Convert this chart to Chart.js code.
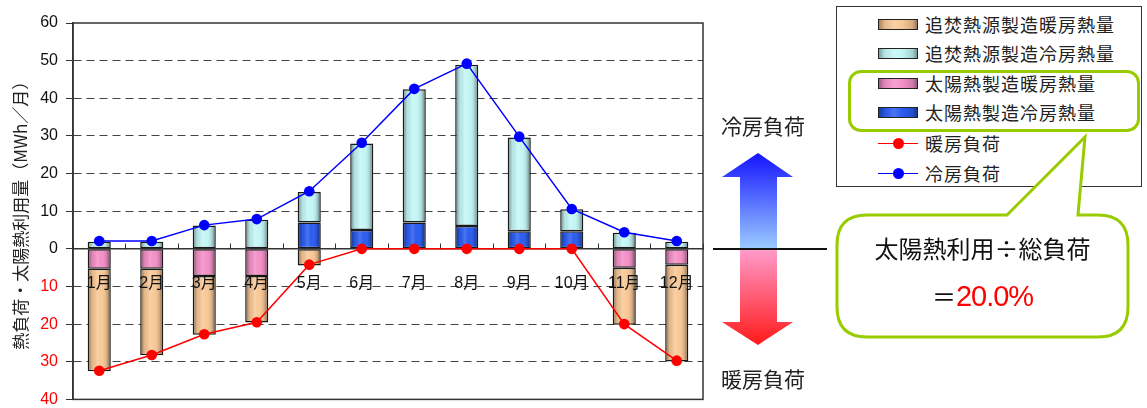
<!DOCTYPE html>
<html>
<head>
<meta charset="utf-8">
<script src="https://cdn.jsdelivr.net/npm/chart.js@4"></script>
<style>
  body{margin:0;background:#fff;font-family:'Liberation Sans','Noto Sans CJK JP',sans-serif;}
  #wrap{position:relative;width:1147px;height:408px;overflow:hidden;}
  #wrap canvas{position:absolute;left:0;top:0;}
  .abs{position:absolute;}
  #legend{left:836px;top:6px;width:306px;height:181px;border:1px solid #333;background:#fff;box-sizing:border-box;}
  .row{position:absolute;left:0;height:20px;}
  .sw{position:absolute;left:41px;top:4px;width:40px;height:11px;border:1px solid #222;box-sizing:border-box;}
  .lt{position:absolute;left:88px;top:-3px;font-size:18px;letter-spacing:1px;color:#222;white-space:nowrap;font-family:'Noto Sans CJK JP',sans-serif;line-height:24px;}
  .ln{position:absolute;left:41px;top:9px;width:40px;height:0;border-top:1.5px solid;}
  .dot{position:absolute;left:56px;top:4px;width:11px;height:11px;border-radius:50%;}
  #hl{left:848px;top:70px;width:292px;height:62px;border:3px solid #99cc00;border-radius:13px;box-sizing:border-box;}
  .jp{font-family:'Noto Sans CJK JP',sans-serif;color:#222;white-space:nowrap;}
</style>
</head>
<body>
<div id="wrap">
  <canvas id="chart" width="1147" height="417"></canvas>

  <div id="legend" class="abs">
    <div class="row" style="top:8px"><div class="sw" id="sw0"></div><div class="lt">追焚熱源製造暖房熱量</div></div>
    <div class="row" style="top:37px"><div class="sw" id="sw1"></div><div class="lt">追焚熱源製造冷房熱量</div></div>
    <div class="row" style="top:67px"><div class="sw" id="sw2"></div><div class="lt">太陽熱製造暖房熱量</div></div>
    <div class="row" style="top:96px"><div class="sw" id="sw3"></div><div class="lt">太陽熱製造冷房熱量</div></div>
    <div class="row" style="top:127px"><div class="ln" style="border-color:#ff0000"></div><div class="dot" style="background:#ff0000"></div><div class="lt">暖房負荷</div></div>
    <div class="row" style="top:157px"><div class="ln" style="border-color:#0000ff"></div><div class="dot" style="background:#0000ff"></div><div class="lt">冷房負荷</div></div>
  </div>
  <div id="hl" class="abs"></div>

  <svg class="abs" style="left:0;top:0" width="1147" height="408">
    <defs>
      <linearGradient id="arr" gradientUnits="userSpaceOnUse" x1="0" y1="153" x2="0" y2="345">
        <stop offset="0" stop-color="#1414ff"/>
        <stop offset="0.5" stop-color="#9cccff"/>
        <stop offset="0.5" stop-color="#ff9ccc"/>
        <stop offset="1" stop-color="#ff1a1a"/>
      </linearGradient>
    </defs>
    <path d="M758 153 L793 177 L777 177 L777 322 L793 322 L758 345 L722 322 L740 322 L740 177 L722 177 Z" fill="url(#arr)"/>
    <line x1="713" y1="249" x2="827" y2="249" stroke="#111" stroke-width="2"/>
    <path d="M867 215 L1007 215 L1085 137 L1078 215 L1098 215 Q1128 215 1128 245 L1128 307 Q1128 337 1098 337 L867 337 Q837 337 837 307 L837 245 Q837 215 867 215 Z"
          fill="#fff" stroke="#99cc00" stroke-width="3"/>
  </svg>

  <div class="abs jp" style="left:713px;top:110px;width:100px;text-align:center;font-size:21px;">冷房負荷</div>
  <div class="abs jp" style="left:713px;top:363px;width:100px;text-align:center;font-size:21px;">暖房負荷</div>
  <div class="abs jp" style="left:837px;top:230px;width:291px;text-align:center;font-size:24px;color:#111;">太陽熱利用÷総負荷</div>
  <div class="abs jp" style="left:837px;top:278px;width:291px;text-align:center;font-size:24px;color:#111;line-height:36px;">＝<span style="color:#ff0000;font-family:'Liberation Sans',sans-serif;font-size:29px;letter-spacing:-1px;">20.0%</span></div>
</div>

<script>
// values (MWh/month), heating side negative
const months = ['1月','2月','3月','4月','5月','6月','7月','8月','9月','10月','11月','12月'];
const solarHeat  = [-5.3, -5.3, -7.2, -7.2, null, null, null, null, null, null, -5.0, -4.2];
const backupHeat = [-27.2, -23.0, -15.6, -12.4, -4.4, null, null, null, null, null, -15.2, -25.7];
const solarCool  = [null, null, null, null, 7.0, 5.0, 7.0, 6.1, 4.7, 4.7, null, null];
const backupCool = [1.9, 1.9, 6.2, 7.7, 8.1, 23.0, 35.4, 42.8, 24.9, 5.8, 4.3, 1.9];
const heatLoad   = [-32.4, -28.2, -22.7, -19.5, -4.2, 0, 0, 0, 0, 0, -20.0, -29.7];
const coolLoad   = [2.1, 2.1, 6.3, 7.9, 15.3, 28.2, 42.5, 49.2, 29.8, 10.6, 4.4, 2.1];

const yMin = -40, yMax = 60, yStep = 10;

const colTan = '#f9c896', colCyan = '#c4f6f6', colPink = '#f590c8', colBlue = '#2a5cf0';

// cylinder-ish swatches for the html legend
function shade(c){
  return 'linear-gradient(to right, rgba(0,0,0,.35), rgba(0,0,0,.08) 15%, rgba(255,255,255,.15) 40%, rgba(255,255,255,0) 60%, rgba(0,0,0,.15) 88%, rgba(0,0,0,.4)), ' + c;
}
document.getElementById('sw0').style.background = shade(colTan);
document.getElementById('sw1').style.background = shade(colCyan);
document.getElementById('sw2').style.background = shade(colPink);
document.getElementById('sw3').style.background = shade(colBlue);

const FONT = "'Liberation Sans','Noto Sans CJK JP',sans-serif";

const barShade = {
  id:'barShade',
  afterDatasetDraw(chart, args){
    const meta = args.meta;
    if(meta.type !== 'bar') return;
    const ctx = chart.ctx;
    meta.data.forEach(el=>{
      const p = el.getProps(['x','y','base','width'], true);
      const h = Math.abs(p.base - p.y);
      if(!isFinite(h) || h < 2) return;
      const l = p.x - p.width/2 + 1.5, w = p.width - 3, t = Math.min(p.y, p.base) + 1.5;
      const g = ctx.createLinearGradient(l,0,l+w,0);
      g.addColorStop(0,'rgba(0,0,0,0.35)');
      g.addColorStop(0.15,'rgba(0,0,0,0.08)');
      g.addColorStop(0.4,'rgba(255,255,255,0.15)');
      g.addColorStop(0.6,'rgba(255,255,255,0)');
      g.addColorStop(0.88,'rgba(0,0,0,0.15)');
      g.addColorStop(1,'rgba(0,0,0,0.4)');
      ctx.save();
      ctx.fillStyle = g;
      ctx.fillRect(l, t, w, h - 3);
      ctx.restore();
    });
  }
};

const frame = {
  id:'frame',
  beforeDatasetsDraw(chart){
    const a = chart.chartArea, ctx = chart.ctx;
    ctx.save();
    ctx.strokeStyle = '#333';
    ctx.lineWidth = 1.5;
    ctx.strokeRect(a.left, a.top, a.right - a.left, a.bottom - a.top);
    ctx.restore();
  }
};

function barSet(label, data, color){
  return {type:'bar', label, data, backgroundColor:color, borderColor:'#1a1a1a', borderWidth:1.5,
          borderSkipped:false, barPercentage:0.44, categoryPercentage:1, order:1};
}
function lineSet(label, data, color){
  return {type:'line', label, data, borderColor:color, backgroundColor:color, borderWidth:1.5,
          pointRadius:5.3, pointBorderWidth:0, pointBackgroundColor:color, tension:0, order:0};
}

new Chart(document.getElementById('chart'), {
  data:{
    labels: months,
    datasets:[
      barSet('太陽熱製造暖房熱量', solarHeat, colPink),
      barSet('追焚熱源製造暖房熱量', backupHeat, colTan),
      barSet('太陽熱製造冷房熱量', solarCool, colBlue),
      barSet('追焚熱源製造冷房熱量', backupCool, colCyan),
      lineSet('暖房負荷', heatLoad, '#ff0000'),
      lineSet('冷房負荷', coolLoad, '#0000ff')
    ]
  },
  options:{
    responsive:false,
    animation:false,
    events:[],
    layout:{padding:{left:0, right:444, top:23, bottom:8}},
    plugins:{legend:{display:false}, tooltip:{enabled:false}},
    scales:{
      x:{
        stacked:true,
        position:{y:0},
        offset:true,
        afterFit(s){ s.height = 0; },
        grid:{display:true, drawOnChartArea:false, offset:true, tickLength:-6, tickColor:'#333', tickWidth:1},
        border:{display:true, color:'#333', width:1.5},
        ticks:{z:1, color:'#111', font:{family:FONT, size:16}, padding:31}
      },
      y:{
        stacked:true,
        min:yMin, max:yMax,
        afterFit(s){ s.width = 73; },
        ticks:{stepSize:yStep, padding:8, font:{family:FONT, size:16},
               color:c=> c.tick.value < 0 ? '#ff0000' : '#111',
               callback:v=> Math.abs(v)},
        grid:{
          color:c=> (c.tick.value === 0 || c.tick.value === yMax || c.tick.value === yMin) ? 'rgba(0,0,0,0)' : '#444',
          lineWidth:1, tickLength:7, tickColor:'#333'
        },
        border:{display:true, color:'#333', width:1.5, dash:[8,5]},
        title:{display:true, text:'熱負荷・太陽熱利用量（MWh／月）', color:'#222',
               font:{family:"'Noto Sans CJK JP',sans-serif", size:17}, padding:{top:10, bottom:0}}
      }
    }
  },
  plugins:[barShade, frame]
});
</script>
</body>
</html>
